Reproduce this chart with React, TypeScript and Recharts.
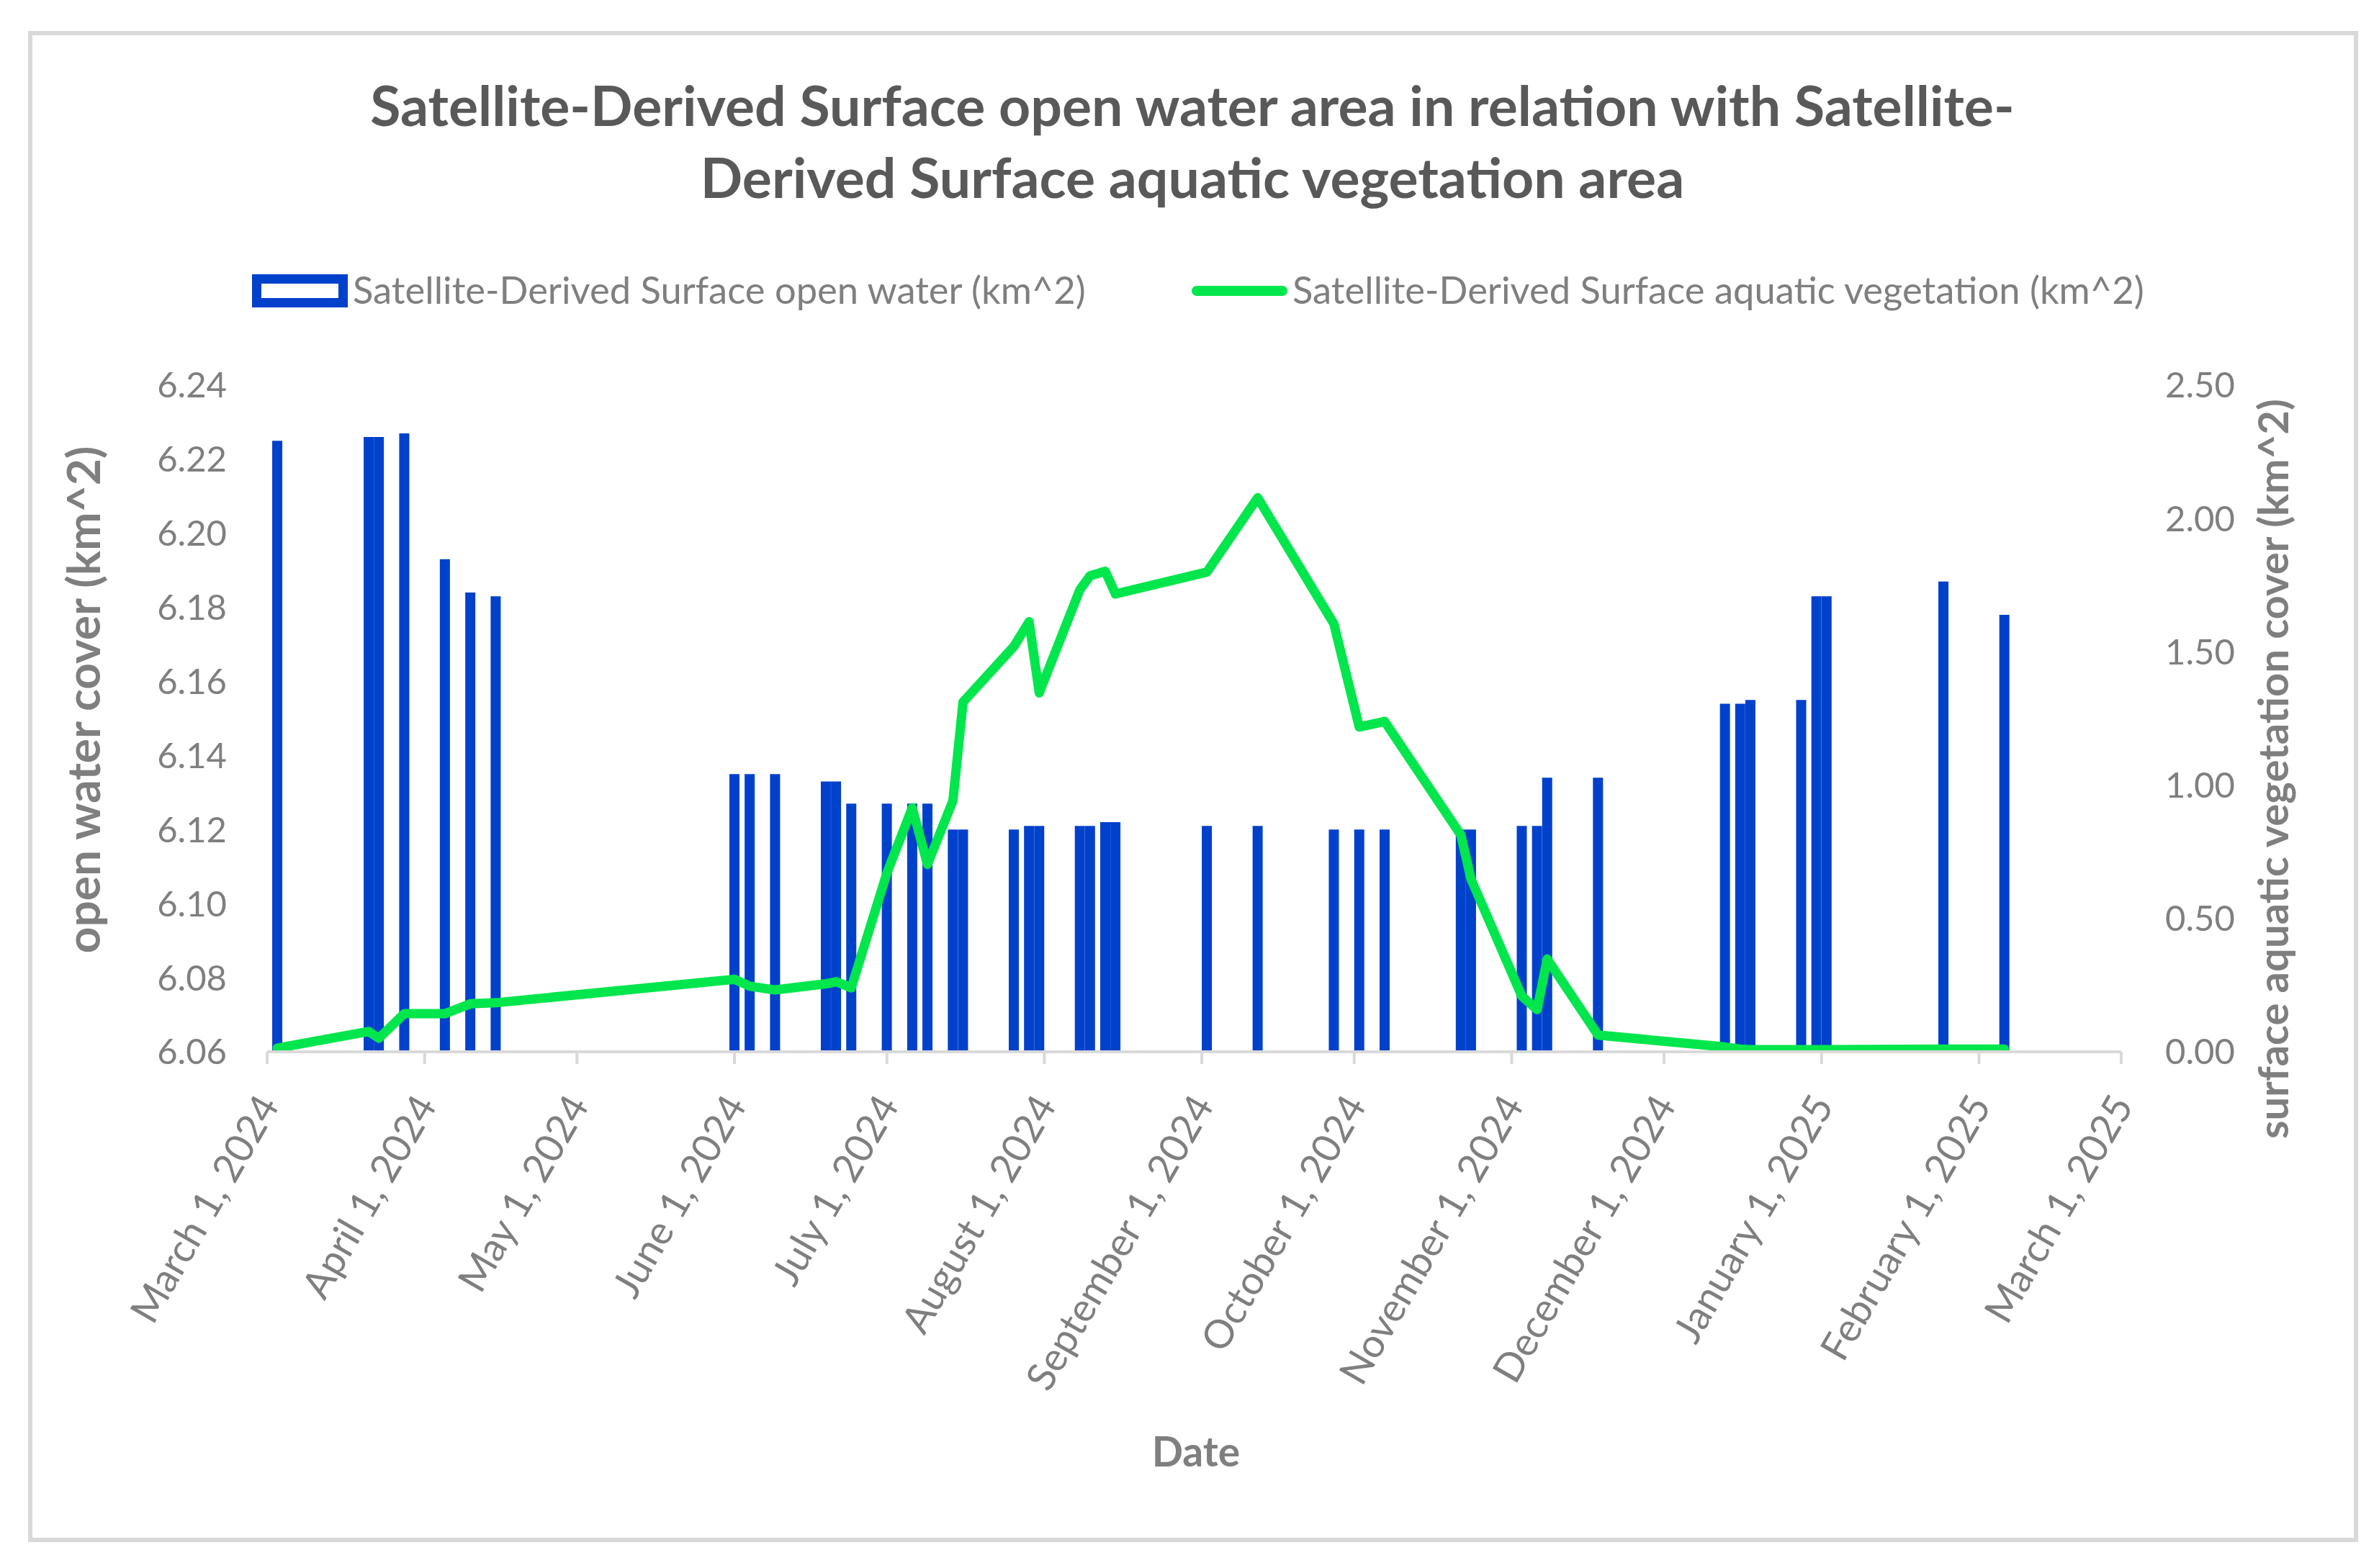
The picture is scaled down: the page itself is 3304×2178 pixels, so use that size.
import React from "react";
import { ComposedChart, Bar, Line, XAxis, YAxis } from "recharts";

const obsDates = [
  "2024-03-03", "2024-03-21", "2024-03-23", "2024-03-28", "2024-04-05", "2024-04-10", "2024-04-15",
  "2024-06-01", "2024-06-04", "2024-06-09", "2024-06-19", "2024-06-21", "2024-06-24",
  "2024-07-01", "2024-07-06", "2024-07-09", "2024-07-14", "2024-07-16", "2024-07-26", "2024-07-29", "2024-07-31",
  "2024-08-08", "2024-08-10", "2024-08-13", "2024-08-15",
  "2024-09-02", "2024-09-12", "2024-09-27",
  "2024-10-02", "2024-10-07", "2024-10-22", "2024-10-24",
  "2024-11-03", "2024-11-06", "2024-11-08", "2024-11-18",
  "2024-12-13", "2024-12-16", "2024-12-18", "2024-12-28", "2024-12-31",
  "2025-01-02", "2025-01-25", "2025-02-06",
];

const openWater = [
  6.225, 6.226, 6.226, 6.227, 6.193, 6.184, 6.183,
  6.135, 6.135, 6.135, 6.133, 6.133, 6.127,
  6.127, 6.127, 6.127, 6.120, 6.120, 6.120, 6.121, 6.121,
  6.121, 6.121, 6.122, 6.122,
  6.121, 6.121, 6.120,
  6.120, 6.120, 6.120, 6.120,
  6.121, 6.121, 6.134, 6.134,
  6.154, 6.154, 6.155, 6.155, 6.183,
  6.183, 6.187, 6.178,
];

const vegetation = [
  0.014, 0.076, 0.051, 0.143, 0.143, 0.18, 0.184,
  0.272, 0.246, 0.232, 0.255, 0.263, 0.24,
  0.67, 0.915, 0.703, 0.941, 1.312, 1.52, 1.613, 1.346,
  1.733, 1.785, 1.802, 1.717,
  1.799, 2.078, 1.605,
  1.218, 1.239, 0.813, 0.648,
  0.209, 0.158, 0.348, 0.063,
  0.018, 0.01, 0.008, 0.008, 0.008,
  0.008, 0.01, 0.01,
];

const monthTicks = [
  "2024-03-01", "2024-04-01", "2024-05-01", "2024-06-01", "2024-07-01", "2024-08-01", "2024-09-01",
  "2024-10-01", "2024-11-01", "2024-12-01", "2025-01-01", "2025-02-01", "2025-03-01",
];
const monthLabels = [
  "March 1, 2024", "April 1, 2024", "May 1, 2024", "June 1, 2024", "July 1, 2024", "August 1, 2024",
  "September 1, 2024", "October 1, 2024", "November 1, 2024", "December 1, 2024", "January 1, 2025",
  "February 1, 2025", "March 1, 2025",
];
const waterTicks = [6.06, 6.08, 6.1, 6.12, 6.14, 6.16, 6.18, 6.2, 6.22, 6.24];
const vegTicks = [0, 0.5, 1, 1.5, 2, 2.5];

const toTime = (d: string) => Date.parse(d + "T00:00:00Z");

const rows = obsDates.map((d, i) => ({ t: toTime(d), water: openWater[i], veg: vegetation[i] }));
const tickTimes = monthTicks.map(toTime);

const FONT = "Lato, 'Open Sans', sans-serif";
const GREY = "#7F7F7F";
const BLUE = "#0041CC";
const GREEN = "#00E64C";

const DateTick = ({ x, y, index }: any) => {
  const cy = y + 47;
  return (
    <text
      x={x}
      y={cy}
      transform={`rotate(-60 ${x} ${cy})`}
      textAnchor="end"
      dominantBaseline="central"
      fill={GREY}
      fontSize={55}
      fontFamily={FONT}
    >
      {monthLabels[index]}
    </text>
  );
};

export default function App() {
  return (
    <div style={{ position: "absolute", left: 0, top: 0, width: 3304, height: 2178, background: "#fff" }}>
      <ComposedChart width={3304} height={2178} data={rows} margin={{ top: 535, right: 0, bottom: 0, left: 0 }}>
        <XAxis
          dataKey="t"
          type="number"
          scale="time"
          domain={[tickTimes[0], tickTimes[tickTimes.length - 1]]}
          ticks={tickTimes}
          interval={0}
          height={717}
          axisLine={{ stroke: "#D9D9D9", strokeWidth: 4 }}
          tickLine={{ stroke: "#D9D9D9", strokeWidth: 4 }}
          tickSize={17}
          tickMargin={0}
          tick={<DateTick />}
        />
        <YAxis
          yAxisId="water"
          orientation="left"
          width={371}
          domain={[6.06, 6.24]}
          ticks={waterTicks}
          allowDataOverflow
          axisLine={false}
          tickLine={false}
          tickSize={0}
          tickMargin={56}
          tickFormatter={(v: number) => v.toFixed(2)}
          tick={{ fill: GREY, fontSize: 49, fontFamily: FONT }}
        />
        <YAxis
          yAxisId="veg"
          orientation="right"
          width={358}
          domain={[0, 2.5]}
          ticks={vegTicks}
          allowDataOverflow
          axisLine={false}
          tickLine={false}
          tickSize={0}
          tickMargin={61}
          tickFormatter={(v: number) => v.toFixed(2)}
          tick={{ fill: GREY, fontSize: 49, fontFamily: FONT }}
        />
        <Bar yAxisId="water" dataKey="water" fill={BLUE} barSize={14} isAnimationActive={false} />
        <Line
          yAxisId="veg"
          dataKey="veg"
          type="linear"
          stroke={GREEN}
          strokeWidth={13}
          strokeLinejoin="round"
          strokeLinecap="round"
          dot={false}
          activeDot={false}
          isAnimationActive={false}
        />
      </ComposedChart>

      <svg width={3304} height={2178} style={{ position: "absolute", left: 0, top: 0, pointerEvents: "none" }}>
        <rect x={42} y={46} width={3230} height={2093} fill="none" stroke="#D9D9D9" strokeWidth={6} />

        <g fontFamily={FONT} fontWeight={700} fill="#595959" fontSize={77} textAnchor="middle">
          <text x={1656} y={175}>Satellite-Derived Surface open water area in relation with Satellite-</text>
          <text x={1656} y={275}>Derived Surface aquatic vegetation area</text>
        </g>

        <rect x={356.5} y={387.5} width={120} height={33} fill="#fff" stroke={BLUE} strokeWidth={13} />
        <text x={490} y={422} fontFamily={FONT} fontSize={52.5} fill={GREY}>
          Satellite-Derived Surface open water (km^2)
        </text>
        <line x1={1662} y1={404} x2={1781} y2={404} stroke={GREEN} strokeWidth={14} strokeLinecap="round" />
        <text x={1795} y={422} fontFamily={FONT} fontSize={52.5} fill={GREY}>
          Satellite-Derived Surface aquatic vegetation (km^2)
        </text>

        <text
          x={139}
          y={972}
          transform="rotate(-90 139 972)"
          textAnchor="middle"
          fontFamily={FONT}
          fontWeight={700}
          fontSize={64}
          fill={GREY}
        >
          open water cover (km^2)
        </text>
        <text
          x={3178}
          y={1068}
          transform="rotate(-90 3178 1068)"
          textAnchor="middle"
          fontFamily={FONT}
          fontWeight={700}
          fontSize={58}
          fill={GREY}
        >
          surface aquatic vegetation cover (km^2)
        </text>
        <text x={1661} y={2037} textAnchor="middle" fontFamily={FONT} fontWeight={700} fontSize={57} fill={GREY}>
          Date
        </text>
      </svg>
    </div>
  );
}
